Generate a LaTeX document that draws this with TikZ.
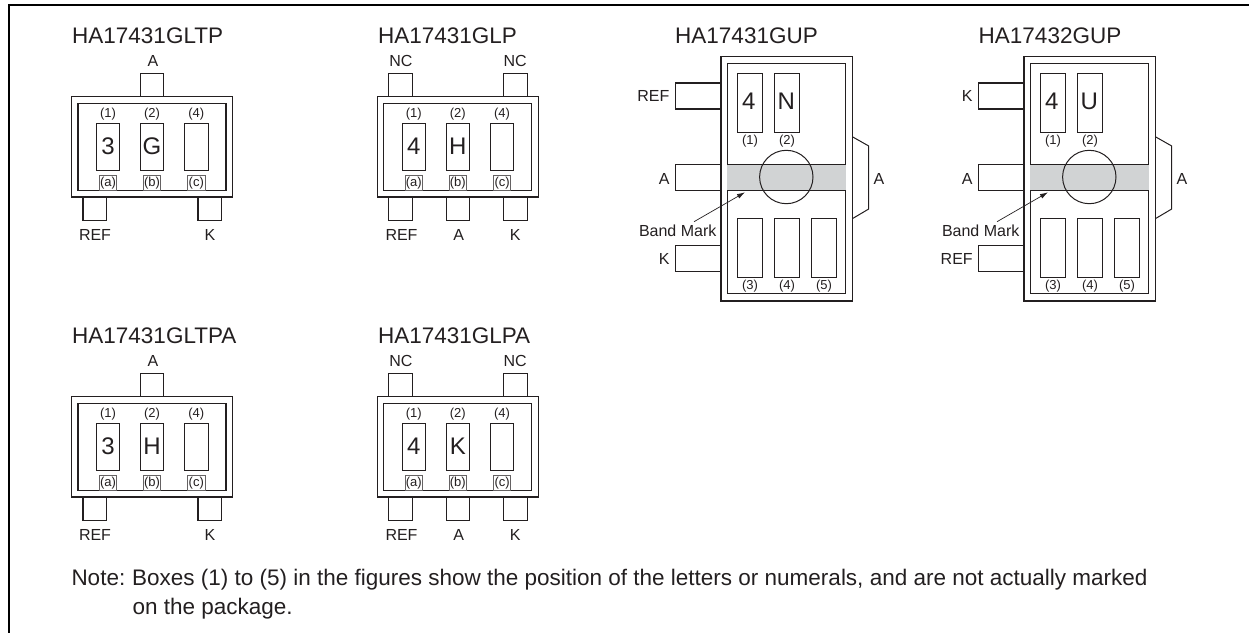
\documentclass[tikz,border=0pt]{standalone}
\usepackage{fontspec}
\setmainfont{Liberation Sans}
\definecolor{ink}{HTML}{231F20}
\definecolor{band}{HTML}{D1D3D4}
\newcommand{\fs}[1]{\fontsize{#1}{#1}\selectfont}
\usetikzlibrary{arrows.meta}
\tikzset{
  x=1pt,y=-1pt,
  every node/.style={inner sep=0pt,outer sep=0pt,text=ink,anchor=center},
  pkgouter/.style={draw=ink,line width=1.4pt},
  pkginner/.style={draw=ink,line width=1.2pt},
  legbox/.style={draw=ink,line width=1.1pt},
  markbox/.style={draw=ink,line width=0.9pt},
  tinybox/.style={draw=ink!70,line width=0.8pt},
  titletext/.style={font=\fs{22.5}},
  pintext/.style={font=\fs{16}},
  bignum/.style={font=\fs{24}},
  smalltext/.style={font=\fs{13}},
  notetext/.style={font=\fs{22.5},anchor=base west},
}
\newcommand{\flatpkg}[6]{%
\begin{scope}[shift={(#1,#2)}]
  \node[titletext,anchor=base west] (title) at (72.2,43.3) {#5};
  \ifnum#6=0
    \draw[legbox] (140.3,96.7) -- (140.3,73.3) -- (163.7,73.3) -- (163.7,96.7);
    \draw[legbox] (83,197) -- (83,220.3) -- (106.3,220.3) -- (106.3,197);
    \draw[legbox] (198,197) -- (198,220.3) -- (221.3,220.3) -- (221.3,197);
    \node[pintext] (ptop) at (153,60.7) {A};
    \node[pintext] (pref) at (95,235) {REF};
    \node[pintext] (pk) at (210,235) {K};
  \else
    \draw[legbox] (83,96.7) -- (83,73.3) -- (106.3,73.3) -- (106.3,96.7);
    \draw[legbox] (198,96.7) -- (198,73.3) -- (221.3,73.3) -- (221.3,96.7);
    \draw[legbox] (83,197) -- (83,220.3) -- (106.3,220.3) -- (106.3,197);
    \draw[legbox] (140.3,197) -- (140.3,220.3) -- (163.7,220.3) -- (163.7,197);
    \draw[legbox] (198,197) -- (198,220.3) -- (221.3,220.3) -- (221.3,197);
    \node[pintext] (pnc1) at (95,60.7) {NC};
    \node[pintext] (pnc2) at (209.3,60.7) {NC};
    \node[pintext] (pref) at (95.7,235) {REF};
    \node[pintext] (pa) at (153,235) {A};
    \node[pintext] (pk) at (209.3,235) {K};
  \fi
  \draw[pkgouter] (71.7,96.7) rectangle (232.7,197);
  \draw[pkginner] (78,103.3) rectangle (226,190.7);
  \draw[markbox] (96.3,123.7) rectangle (119.7,170);
  \draw[markbox] (140.3,123.7) rectangle (163.7,170);
  \draw[markbox] (184.7,123.7) rectangle (208,170);
  \draw[tinybox] (99.3,175) rectangle (116.7,190.3);
  \draw[tinybox] (143.3,175) rectangle (160.7,190.3);
  \draw[tinybox] (187.7,175) rectangle (205,190.3);
  \node[smalltext] (n1) at (108,114) {(1)};
  \node[smalltext] (n2) at (152,114) {(2)};
  \node[smalltext] (n4) at (196.3,114) {(4)};
  \node[smalltext] (la) at (108,183) {(a)};
  \node[smalltext] (lb) at (152,183) {(b)};
  \node[smalltext] (lc) at (196.3,183) {(c)};
  \node[bignum] (m1) at (108,146.5) {#3};
  \node[bignum] (m2) at (152,146.5) {#4};
\end{scope}}
\newcommand{\uppkg}[7]{%
\begin{scope}[shift={(#1,0)}]
  \node[titletext,anchor=base] (utitle) at (#2,43.3) {#3};
  \draw[legbox] (721,83) -- (675.3,83) -- (675.3,109) -- (721,109);
  \draw[legbox] (721,164.3) -- (675.3,164.3) -- (675.3,190.3) -- (721,190.3);
  \draw[legbox] (721,245.3) -- (675.3,245.3) -- (675.3,271.3) -- (721,271.3);
  \draw[pkgouter] (721,56.7) rectangle (852.3,301);
  \draw[pkginner] (727.3,63.7) rectangle (845.7,293.7);
  \fill[band] (727.3,164.3) rectangle (845.7,190.3);
  \draw[draw=ink,line width=0.8pt] (727.3,164.3) -- (845.7,164.3) (727.3,190.3) -- (845.7,190.3);
  \draw[draw=ink,line width=1pt] (786.3,177) circle[radius=26.7];
  \draw[draw=ink,line width=1pt] (852.3,136.7) -- (868.7,146) -- (868.7,209) -- (852.3,218.7);
  \foreach \xa/\ya in {737.3/73.3,774/73.3,737.3/218.3,774/218.3,811/218.3}
    \draw[markbox] (\xa,\ya) rectangle ++(25,59);
  \node[bignum] (um1) at (#6,101.7) {#4};
  \node[bignum] (um2) at (786.3,101.7) {#5};
  \node[smalltext] (u1) at (750,140.7) {(1)};
  \node[smalltext] (u2) at (787,140.7) {(2)};
  \node[smalltext] (u3) at (750,285.7) {(3)};
  \node[smalltext] (u4) at (787,285.7) {(4)};
  \node[smalltext] (u5) at (824,285.7) {(5)};
  \node[pintext] (ua) at (664.3,178.7) {A};
  \node[pintext] (uar) at (879,178.7) {A};
  \node[pintext] (ubm) at (677.7,230.7) {Band Mark};
  \coordinate (arrowtail) at (694,221.7);
  \coordinate (arrowhead) at (745,192.3);
  \draw[draw=ink,line width=0.7pt,-{Latex[length=8pt,width=5pt]}] (arrowtail) -- (arrowhead);
  #7
\end{scope}}
\begin{document}
\begin{tikzpicture}
  \useasboundingbox (0,0) rectangle (1249,632);
  \begin{scope}
    \clip (0,0) rectangle (1249,632);
    \draw[draw=black,line width=2pt] (9,640) -- (9,5) -- (1255,5);
  \end{scope}
  \flatpkg{0}{0}{3}{G}{HA17431GLTP}{0}
  \flatpkg{305.8}{0}{4}{H}{HA17431GLP}{1}
  \flatpkg{0}{300}{3}{H}{HA17431GLTPA}{0}
  \flatpkg{305.8}{300}{4}{K}{HA17431GLPA}{1}
  \uppkg{0}{746.5}{HA17431GUP}{4}{N}{748.7}{%
    \node[pintext] (ur) at (653.3,96.3) {REF};
    \node[pintext] (uk) at (664.3,259.3) {K};}
  \uppkg{303}{747}{HA17432GUP}{4}{U}{748.7}{%
    \node[pintext] (uk) at (664.3,96.3) {K};
    \node[pintext] (ur) at (653.7,259.3) {REF};}
  \node[notetext] (note0) at (71.5,585.7) {Note:};
  \node[notetext] (note1) at (132,585.7) {Boxes (1) to (5) in the figures show the position of the letters or numerals, and are not actually marked};
  \node[notetext] (note2) at (132.5,614) {on the package.};
\end{tikzpicture}
\end{document}
